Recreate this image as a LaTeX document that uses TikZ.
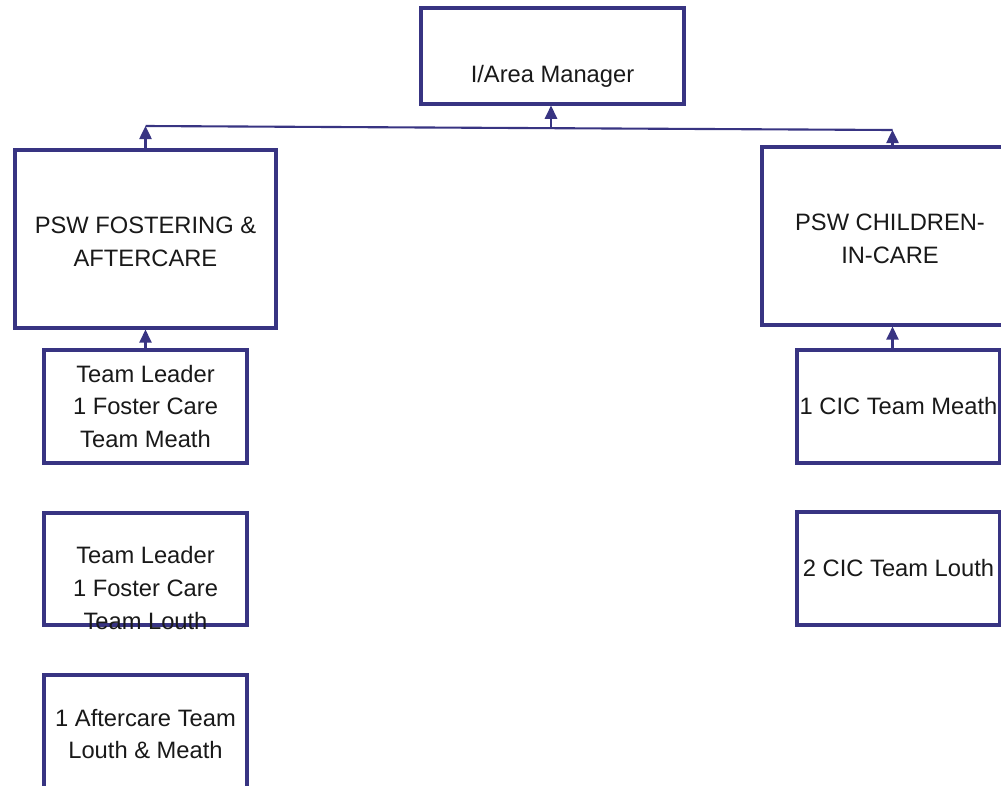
\documentclass[tikz,border=0pt]{standalone}
\usepackage{fontspec}
\setmainfont{Liberation Sans}
\usetikzlibrary{arrows.meta}
\definecolor{orgblue}{RGB}{56,52,130}
\begin{document}
\begin{tikzpicture}[x=0.02cm, y=-0.02cm,
  post/.style={draw=orgblue, line width=1.8pt, fill=white, inner sep=0pt, align=center, text=black!90, font=\fontsize{13.5}{18.7}\selectfont},
  lbl/.style={align=center, inner sep=0pt, text=black!90, font=\fontsize{13.5}{18.7}\selectfont},
  up/.style={draw=orgblue, line width=1.2pt, -{Triangle[length=7.5pt,width=7pt]}}]
\path[use as bounding box, clip] (0,0) rectangle (1001,785);
\node[post, minimum width=5.26cm, minimum height=1.92cm] (mgr) at (552.5,56){};
\node[lbl] (mgrtxt) at (552.5,76){I/Area Manager};
\node[post, minimum width=5.22cm, minimum height=3.56cm] (fost) at (145.5,239){};
\node[lbl] (fosttxt) at (145.5,242){PSW FOSTERING \&\\AFTERCARE};
\node[post, minimum width=5.22cm, minimum height=3.56cm] (cic) at (892.5,236){};
\node[lbl] (cictxt) at (890,239){PSW CHILDREN-\\IN-CARE};
\coordinate (busl) at (145.5,126);
\coordinate (busr) at (892.5,130);
\coordinate (busm) at (551,128);
\draw[orgblue, line width=1.2pt](busl) -- (busr);
\draw[up](fost.north) -- (busl);
\draw[up](cic.north) -- (busr);
\draw[up](busm) -- (busm |- mgr.south);
% fostering and aftercare teams
\node[post, minimum width=4.06cm, minimum height=2.26cm] (tlm) at (145.5,406.5){Team Leader\\1 Foster Care\\Team Meath};
\node[post, minimum width=4.06cm, minimum height=2.24cm] (tll) at (145.5,569){};
\node[lbl] (tlltxt) at (145.5,588){Team Leader\\1 Foster Care\\Team Louth};
\node[post, minimum width=4.06cm, minimum height=2.26cm] (after) at (145.5,731.5){};
\node[lbl] (aftertxt) at (145.5,734){1 Aftercare Team\\Louth \& Meath};
\draw[up](tlm.north) -- (fost.south);
% children in care teams
\node[post, minimum width=4.06cm, minimum height=2.26cm] (cicm) at (898.5,406.5){1 CIC Team Meath};
\node[post, minimum width=4.06cm, minimum height=2.26cm] (cicl) at (898.5,568.5){2 CIC Team Louth};
\draw[up](cic.south |- cicm.north) -- (cic.south);
\end{tikzpicture}
\end{document}
